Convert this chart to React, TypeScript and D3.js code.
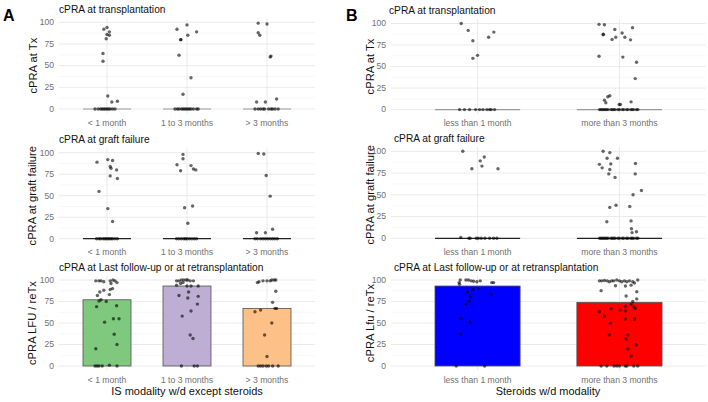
import React from "react";
import * as d3 from "d3";

// ---------- data ----------
const catsA = ["< 1 month", "1 to 3 months", "> 3 months"];
const catsB = ["less than 1 month", "more than 3 months"];
const yTicks = [0, 25, 50, 75, 100];
const yMinor = [12.5, 37.5, 62.5, 87.5];

// bar heights (mean cPRA at last follow-up / reTx)
const barA = [77, 93, 67];
const barB = [93, 74];
const colorsA = ["#7FC97F", "#BEAED4", "#FDC086"];
const colorsB = ["#0000FF", "#FF0000"];

// medians (crossbars) at Tx and at graft failure
const medA = [0, 0, 0];
const medB = [0, 0];

// points: [jitter (category units), value]
const A_TX: [number, number][][] = [
  [[-0.04, 92], [0, 94], [0.03, 89], [0, 86], [0.03, 85], [-0.01, 81], [-0.05, 64], [-0.05, 55], [0.01, 15], [0.06, 8], [0.13, 9],
   [-0.15, 0], [-0.11, 0], [-0.08, 0], [-0.06, 0], [-0.04, 0], [-0.02, 0], [0, 0], [0.02, 0], [0.04, 0], [0.07, 0], [0.1, 0]],
  [[-0.125, 92], [0, 97], [0.12, 89], [0.01, 85], [-0.08, 80], [-0.075, 80], [-0.1, 62], [0.05, 36], [-0.05, 17],
   [-0.15, 0], [-0.12, 0], [-0.1, 0], [-0.07, 0], [-0.05, 0], [-0.03, 0], [-0.01, 0], [0.01, 0], [0.03, 0], [0.05, 0], [0.08, 0], [0.12, 0], [0.14, 0]],
  [[-0.11, 99], [0, 98], [-0.11, 88], [-0.09, 85], [0.04, 60], [0.05, 61], [-0.13, 8], [-0.02, 8], [0.12, 11.5],
   [-0.15, 0], [-0.11, 0], [-0.08, 0], [-0.05, 0], [-0.03, 0], [0.02, 0], [0.05, 0], [0.07, 0], [0.1, 0], [0.14, 0]],
];

const A_GF: [number, number][][] = [
  [[-0.125, 89], [0.01, 92], [0.07, 91], [0.04, 84], [0.05, 82], [0.12, 80], [0.04, 73], [0.13, 70], [-0.1, 55], [0.01, 35], [0.07, 20],
   [-0.13, 0], [-0.1, 0], [-0.08, 0], [-0.05, 0], [-0.03, 0], [-0.01, 0], [0.01, 0], [0.03, 0], [0.05, 0], [0.07, 0], [0.1, 0], [0.13, 0]],
  [[-0.05, 98], [-0.05, 93], [-0.125, 86], [0.05, 85], [0.08, 81], [0.11, 80], [-0.08, 79], [-0.03, 36], [0.07, 38], [0.01, 18],
   [-0.13, 0], [-0.1, 0], [-0.07, 0], [-0.04, 0], [-0.02, 0], [0, 0], [0.03, 0], [0.06, 0], [0.09, 0], [0.12, 0]],
  [[-0.11, 99], [-0.04, 98.5], [-0.01, 73.5], [0.04, 49.5], [-0.13, 7], [-0.02, 7], [0.07, 11],
   [-0.15, 0], [-0.12, 0], [-0.08, 0], [-0.05, 0], [-0.02, 0], [0.01, 0], [0.04, 0], [0.07, 0], [0.1, 0], [0.13, 0]],
];

const A_LFU: [number, number][][] = [
  [[-0.14, 99], [-0.1, 99], [-0.075, 99], [-0.04, 98], [0.04, 99], [0.075, 100], [0.1, 99], [0.125, 97], [0.05, 96], [0.07, 90], [0.04, 89],
   [-0.04, 88], [-0.09, 86], [0.03, 83], [-0.12, 82], [-0.075, 77], [-0.1, 75.6], [-0.01, 75], [-0.13, 69], [0.12, 70], [-0.03, 51],
   [0.08, 55], [0.15, 55], [0.09, 37], [0.125, 25], [-0.14, 20],
   [-0.15, 0], [-0.125, 0], [-0.1, 0], [-0.06, 0], [0.03, 1], [0.125, 0]],
  [[-0.13, 99], [-0.1, 99], [-0.07, 100], [-0.04, 100], [-0.01, 100], [0.01, 100], [0.04, 99], [0.08, 99], [-0.13, 94], [-0.08, 96],
   [-0.05, 97], [0, 93], [0.05, 93], [0.14, 93], [-0.1, 82], [0.02, 86], [0.14, 81], [0.01, 79], [0.13, 72], [0.05, 64], [-0.06, 58],
   [0.04, 36], [0.075, 32], [-0.07, 0], [0.09, 0], [0.13, 0]],
  [[-0.12, 97], [-0.1, 98], [-0.05, 99], [0, 99], [0.04, 99], [0.06, 100], [0.09, 100], [0.11, 100], [0.11, 87], [0.07, 74], [0.1, 67],
   [0.12, 67], [-0.15, 63], [-0.08, 65], [0.06, 50], [-0.03, 36], [0, 11],
   [-0.11, 0], [-0.08, 0], [-0.05, 0], [-0.01, 0], [0.02, 0], [0.07, 0], [0.14, 0]],
];

const zerosB = [-0.14, -0.13, -0.12, -0.11, -0.1, -0.09, -0.08, -0.06, -0.05, -0.04, -0.03, -0.01, 0, 0.02, 0.03, 0.05, 0.06, 0.08, 0.09, 0.1, 0.12, 0.13];

const B_TX: [number, number][][] = [
  [[-0.115, 100], [-0.066, 92], [-0.033, 80], [0, 63], [-0.033, 59.5], [0.078, 84], [0.115, 90],
   [-0.127, 0], [-0.092, 0], [-0.056, 0], [-0.014, 0], [0.014, 0], [0.038, 0], [0.066, 0], [0.085, 0], [0.096, 0], [0.12, 0]],
  [[-0.144, 99], [-0.106, 98.5], [-0.115, 87], [-0.113, 87.5], [-0.033, 93], [-0.052, 81.5], [-0.026, 84], [0.019, 89], [0.038, 84],
   [0.078, 81], [0.092, 95], [-0.144, 62], [0.024, 61], [0.12, 55], [0.111, 36], [-0.068, 16], [-0.082, 15], [-0.106, 11], [-0.096, 8],
   [-0.002, 6], [0.007, 6], [0.082, 9],
   ...zerosB.map((j) => [j, 0] as [number, number])],
];

const B_GF: [number, number][][] = [
  [[-0.104, 100], [-0.04, 80], [0.019, 89], [0.047, 93.5], [0.031, 83], [0.144, 80],
   [-0.118, 1], [-0.061, 0], [-0.052, 0], [-0.009, 0], [0.005, 0], [0.026, 0], [0.052, 0], [0.085, 0], [0.113, 0], [0.136, 0]],
  [[-0.115, 100], [-0.068, 98.5], [-0.087, 92], [-0.014, 92], [-0.141, 85], [-0.061, 85.5], [0.113, 86], [-0.122, 81], [-0.068, 79],
   [-0.075, 74], [-0.031, 70], [0.111, 74], [0.155, 55], [0.096, 50], [-0.024, 38], [-0.068, 35.5], [0.073, 36.5], [-0.089, 19],
   [0.082, 20], [0.085, 11], [0.12, 7.5], [0.089, 6.5],
   ...zerosB.map((j) => [j, 0] as [number, number])],
];

const B_LFU: [number, number][][] = [
  [[-0.122, 100], [-0.082, 100], [-0.064, 100], [-0.045, 99], [-0.028, 98.5], [-0.005, 98], [0.019, 99], [-0.13, 97], [-0.127, 95],
   [0.007, 90], [-0.033, 89], [-0.07, 86], [0.1, 97], [0.113, 97], [0.1, 83], [-0.052, 80.6], [-0.059, 75.6], [-0.082, 72],
   [-0.118, 55], [-0.052, 51], [-0.122, 37], [-0.15, 0], [0.05, 0]],
  [[-0.141, 99], [-0.125, 99], [-0.106, 99.5], [-0.087, 99], [-0.071, 98], [-0.054, 99], [-0.04, 99], [-0.019, 100], [0, 99],
   [0.016, 98], [0.035, 99], [0.052, 98], [0.071, 99], [0.094, 98], [0.106, 96.5], [0.129, 100], [-0.028, 93.4], [0.042, 93],
   [0.082, 94], [-0.129, 87.6], [0.122, 86.4], [0.047, 81.4], [0.122, 78], [0.094, 75], [0.082, 72], [0.101, 68.6], [0.042, 69.4],
   [0.111, 67], [-0.141, 63], [-0.059, 66.7], [0.005, 65], [0.042, 64], [-0.104, 58], [-0.064, 49.6], [0.042, 54.7], [0.106, 54.7],
   [-0.071, 36], [0.059, 36], [0.047, 31.4], [0.059, 20], [0.118, 24.4], [0.082, 11.6],
   [-0.129, 0], [-0.089, 0], [-0.038, 0], [-0.019, 0], [0, 0], [0.042, 0], [0.052, 0], [0.101, 0], [0.129, 0]],
];

// ---------- layout ----------
type Panel = {
  left: number; right: number; y0: number; y100: number; pad: number;
  cats: string[]; pts: [number, number][][];
  title: string; titleX: number; ylab: string; ylabX: number;
  med?: number[]; medColor?: string; bars?: number[]; barColors?: string[];
};

const FONT = "'Liberation Sans', Arial, Helvetica, sans-serif";

const panels: Panel[] = [
  { left: 59, right: 315, y0: 109, y100: 22.3, pad: 0.6, cats: catsA, pts: A_TX, title: "cPRA at transplantation", titleX: 59, ylab: "cPRA at Tx", ylabX: 33, med: medA, medColor: "#9a9a9a" },
  { left: 59, right: 315, y0: 238.7, y100: 152.7, pad: 0.6, cats: catsA, pts: A_GF, title: "cPRA at graft failure", titleX: 59, ylab: "cPRA at graft failure", ylabX: 32, med: medA, medColor: "#222" },
  { left: 59, right: 315, y0: 366, y100: 280, pad: 0.6, cats: catsA, pts: A_LFU, title: "cPRA at Last follow-up or at retransplantation", titleX: 59, ylab: "cPRA LFU / reTx", ylabX: 32.5, bars: barA, barColors: colorsA },
  { left: 391, right: 706, y0: 109.6, y100: 23.5, pad: 0.61, cats: catsB, pts: B_TX, title: "cPRA at transplantation", titleX: 389, ylab: "cPRA at Tx", ylabX: 370, med: medB, medColor: "#9a9a9a" },
  { left: 391, right: 706, y0: 238.3, y100: 151.3, pad: 0.61, cats: catsB, pts: B_GF, title: "cPRA at graft failure", titleX: 394, ylab: "cPRA at graft failure", ylabX: 370, med: medB, medColor: "#222" },
  { left: 391, right: 706, y0: 366, y100: 280, pad: 0.61, cats: catsB, pts: B_LFU, title: "cPRA at Last follow-up or at retransplantation", titleX: 394, ylab: "cPRA Lfu / reTx", ylabX: 370, bars: barB, barColors: colorsB },
];

function PanelView({ p }: { p: Panel }) {
  const x = d3.scalePoint<string>().domain(p.cats).range([p.left, p.right]).padding(p.pad);
  const step = x.step();
  const y = d3.scaleLinear().domain([0, 100]).range([p.y0, p.y100]);
  const top = y(105);
  const bottom = y(-5);
  return (
    <g>
      {yMinor.map((t) => (
        <line key={"mi" + t} x1={p.left} x2={p.right} y1={y(t)} y2={y(t)} stroke="#f2f2f2" strokeWidth={0.6} />
      ))}
      {yTicks.map((t) => (
        <line key={"ma" + t} x1={p.left} x2={p.right} y1={y(t)} y2={y(t)} stroke="#e8e8e8" strokeWidth={0.9} />
      ))}
      {p.cats.map((c) => (
        <line key={"v" + c} x1={x(c)!} x2={x(c)!} y1={top} y2={bottom} stroke="#e8e8e8" strokeWidth={0.9} />
      ))}
      {p.bars &&
        p.bars.map((v, i) => (
          <rect key={"b" + i} x={x(p.cats[i])! - 0.3 * step} width={0.6 * step} y={y(v)} height={y(0) - y(v)}
            fill={p.barColors![i]} stroke="#505050" strokeWidth={0.8} />
        ))}
      {p.med &&
        p.med.map((v, i) => (
          <line key={"m" + i} x1={x(p.cats[i])! - 0.3 * step} x2={x(p.cats[i])! + 0.3 * step} y1={y(v)} y2={y(v)}
            stroke={p.medColor} strokeWidth={1.2} />
        ))}
      {p.pts.map((grp, i) =>
        grp.map(([j, v], k) => (
          <circle key={"p" + i + "-" + k} cx={x(p.cats[i])! + j * step} cy={y(v)} r={1.7} fill="#000" fillOpacity={0.6} />
        ))
      )}
      {yTicks.map((t) => (
        <text key={"yt" + t} x={p.left - 5} y={y(t)} dy="0.33em" textAnchor="end" fontSize={8.6} fill="#707070" fontFamily={FONT}>
          {t}
        </text>
      ))}
      {p.cats.map((c) => (
        <text key={"xt" + c} x={x(c)!} y={p.y0 + 16.5} textAnchor="middle" fontSize={8.6} fill="#707070" fontFamily={FONT}>
          {c}
        </text>
      ))}
      <text x={p.titleX} y={p.y100 - 9.5} fontSize={10.2} fill="#111" fontFamily={FONT}>
        {p.title}
      </text>
      <text transform={`translate(${p.ylabX},${(p.y0 + p.y100) / 2}) rotate(-90)`} dy="0.35em" textAnchor="middle"
        fontSize={11.2} fill="#111" fontFamily={FONT}>
        {p.ylab}
      </text>
    </g>
  );
}

export default function App() {
  return (
    <svg width={708} height={402} style={{ position: "absolute", left: 0, top: 0, background: "#fff" }}>
      <rect width={708} height={402} fill="#fff" />
      {panels.map((p, i) => (
        <PanelView key={i} p={p} />
      ))}
      <text x={3} y={21} fontSize={16} fontWeight="bold" fontFamily={FONT} fill="#000">A</text>
      <text x={346} y={21} fontSize={16} fontWeight="bold" fontFamily={FONT} fill="#000">B</text>
      <text x={187} y={394.5} textAnchor="middle" fontSize={11} fill="#111" fontFamily={FONT}>IS modality w/d except steroids</text>
      <text x={548} y={395} textAnchor="middle" fontSize={11} fill="#111" fontFamily={FONT}>Steroids w/d modality</text>
    </svg>
  );
}
